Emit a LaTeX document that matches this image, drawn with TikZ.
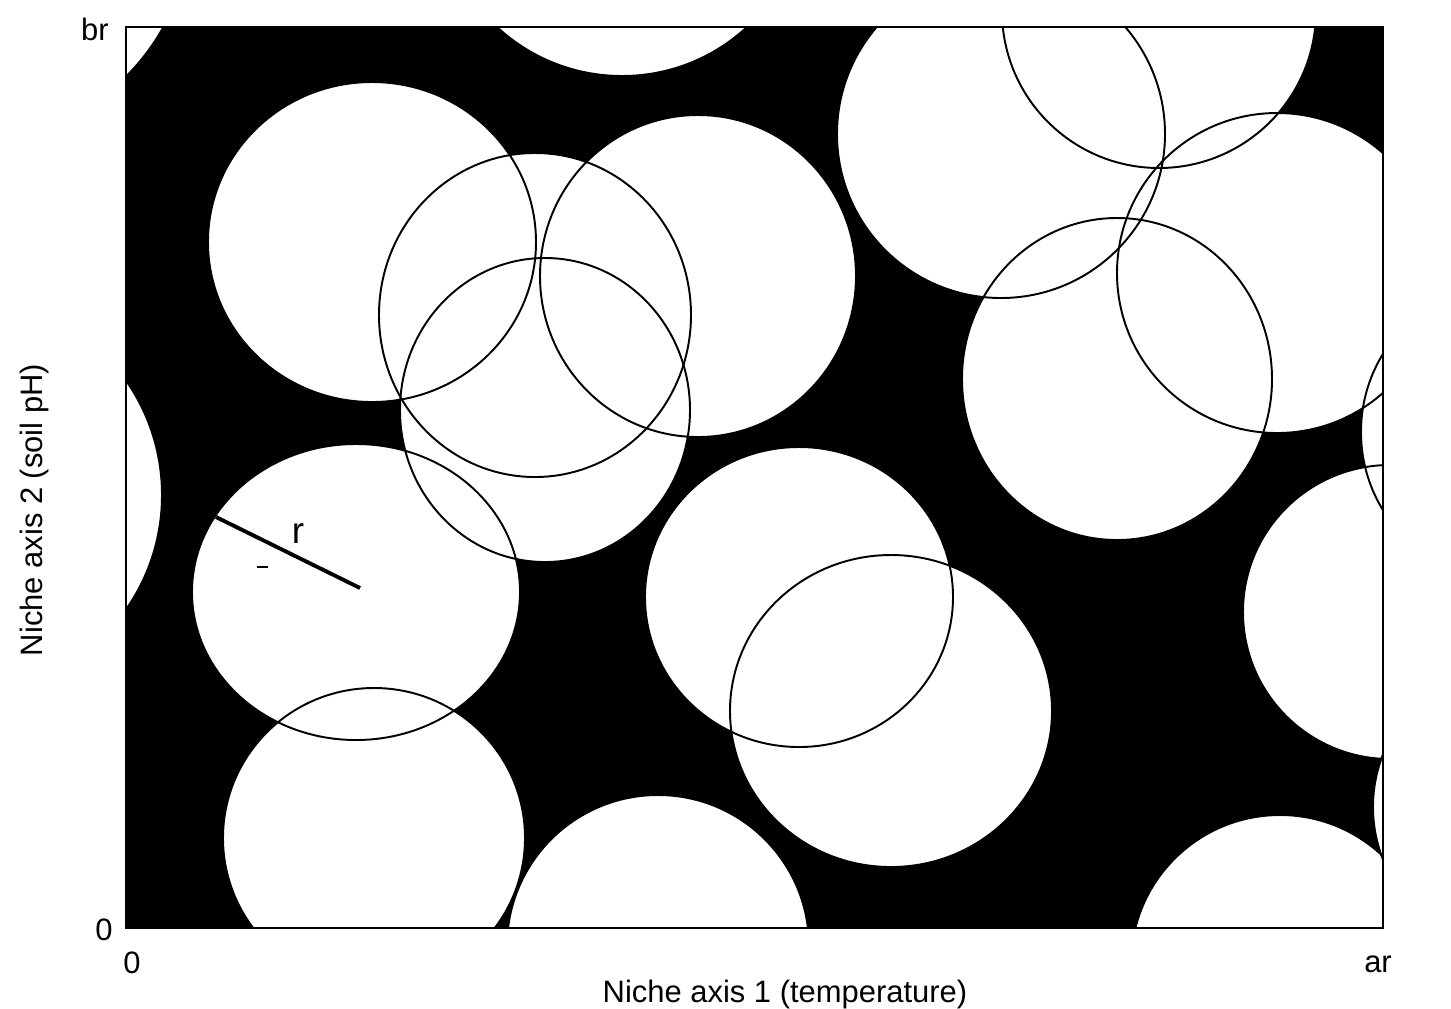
\documentclass[tikz,border=0pt]{standalone}
\usepackage{fontspec}
\setmainfont{Liberation Sans}

% niche centres and radii (x/y/rx/ry)
\newcommand{\nichelist}{%
  -30/-80/221/221, 622/-108/184/184, 372/242/164/160, 535/315/156/162,
  698/276/158/161, 545/410/145/152, 356/592/164/148, 374/838/151/150,
  658/946/151/151, 799/597/154/150, 891/711/161/156, 1001/134/164/164,
  1159/11/157/157, 1117/379/155/161, 1277/273/160/160, 1511/432/150/150,
  1390/612/147/147, 1280/964/149/149, 1516/807/143/143, -38/495/200/200}

\begin{document}
\begin{tikzpicture}[x=0.01cm, y=-0.01cm,
    font=\fontsize{8.8pt}{10pt}\selectfont,
    niche/.style={fill=white},
    rim/.style={draw=black, line width=0.55pt},
    nicheframe/.style={draw=black, line width=0.7pt},
    ticklabel/.style={inner sep=0pt, anchor=base}
]
\useasboundingbox (0,0) rectangle (1451,1008);

\coordinate (ll) at (126,928);
\coordinate (ur) at (1383,27);
\fill[black] (ll) rectangle (ur);

\begin{scope}
\clip (ll) rectangle (ur);
\foreach \cx/\cy/\rx/\ry in \nichelist
    \fill[niche] (\cx,\cy) ellipse [x radius=\rx, y radius=\ry];
\foreach \cx/\cy/\rx/\ry in \nichelist
    \draw[rim] (\cx,\cy) ellipse [x radius=\rx, y radius=\ry];
\end{scope}
\draw[nicheframe] (ll) rectangle (ur);

% radius of one niche
\coordinate (rtip) at (216,517);
\coordinate (rfoot) at (360,588);
\draw[line width=1.1pt] (rtip) -- (rfoot);
\node[ticklabel, font=\fontsize{10.5pt}{12pt}\selectfont] (rlabel) at (298,543) {r};
\coordinate (dasha) at (257,567);
\coordinate (dashb) at (268,567);
\draw[line width=0.5pt] (dasha) -- (dashb);

\node[ticklabel] (br) at (95,40) {br};
\node[ticklabel] (yzero) at (104,940) {0};
\node[ticklabel] (xzero) at (132,973) {0};
\node[ticklabel] (ar) at (1378,972) {ar};
\node[ticklabel] (xaxis) at (785,1002) {Niche axis 1 (temperature)};
\node[ticklabel, rotate=90] (yaxis) at (42,510) {Niche axis 2 (soil pH)};
\end{tikzpicture}
\end{document}
